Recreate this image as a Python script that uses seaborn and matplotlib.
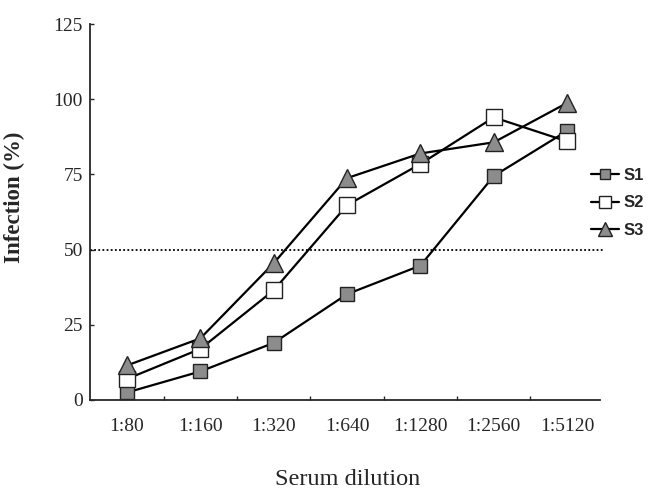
import pandas as pd
import numpy as np
import matplotlib
matplotlib.use("Agg")
import matplotlib.pyplot as plt
import seaborn as sns

# --- Dados ---
dilutions = ["1:80", "1:160", "1:320", "1:640", "1:1280", "1:2560", "1:5120"]
s1 = [2.5, 9.5, 19.0, 35.2, 44.7, 74.5, 89.5]
s2 = [7.0, 17.0, 36.5, 64.8, 78.5, 94.0, 86.0]
s3 = [11.5, 20.5, 45.5, 73.8, 82.0, 85.7, 98.8]
series_names = ["S1", "S2", "S3"]
y_ticks = [0, 25, 50, 75, 100, 125]
threshold = 50

sns.set_style("ticks")
plt.rcParams["font.family"] = ["Liberation Serif", "DejaVu Serif"]

fig = plt.figure(figsize=(6.54, 4.9), dpi=100)
ax = fig.add_axes([0.1376, 0.1837, 0.78, 0.767])

styles = {
    "S1": dict(marker="s", markerfacecolor="#8c8c8c", markersize=10),
    "S2": dict(marker="s", markerfacecolor="white", markersize=11),
    "S3": dict(marker="^", markerfacecolor="#8c8c8c", markersize=12.5),
}
x = np.arange(len(dilutions))
for name, vals in zip(series_names, [s1, s2, s3]):
    sns.lineplot(x=x, y=vals, ax=ax, color="black", linewidth=1.6,
                 markeredgecolor="#222222", markeredgewidth=1.0,
                 label=name, **styles[name])

# linha pontilhada dos 50%
ax.axhline(threshold, color="black", linestyle=(0, (1, 1.3)), linewidth=1.3,
           xmax=1.005, clip_on=False)

ax.set_xlim(-0.505, 6.45)
ax.set_ylim(0, 125)
ax.set_xticks(x)
ax.set_xticklabels(dilutions)
ax.set_xticks(x[:-1] + 0.5, minor=True)
ax.set_yticks(y_ticks)
ax.tick_params(axis="x", which="major", length=0, pad=13, labelsize=14)
ax.tick_params(axis="x", which="minor", direction="in", length=3, width=1)
ax.tick_params(axis="y", direction="in", length=3, width=1, pad=5, labelsize=14)
sns.despine(ax=ax)
for sp in ["left", "bottom"]:
    ax.spines[sp].set_linewidth(1.3)

ax.set_xlabel("Serum dilution", fontsize=17.5)
ax.xaxis.set_label_coords(0.505, -0.226)
ax.xaxis.label.set_va("baseline")
ax.set_ylabel("Infection (%)", fontsize=16.5, fontweight="bold")
ax.yaxis.set_label_coords(-0.128, 0.54)

leg = ax.legend(loc="upper left", bbox_to_anchor=(0.88, 0.688),
                bbox_transform=fig.transFigure, frameon=False,
                prop={"family": "Liberation Sans", "weight": "bold", "size": 12},
                handlelength=1.7, handletextpad=0.3, labelspacing=0.75,
                markerscale=0.75)

fig.savefig("out.png", dpi=100)
